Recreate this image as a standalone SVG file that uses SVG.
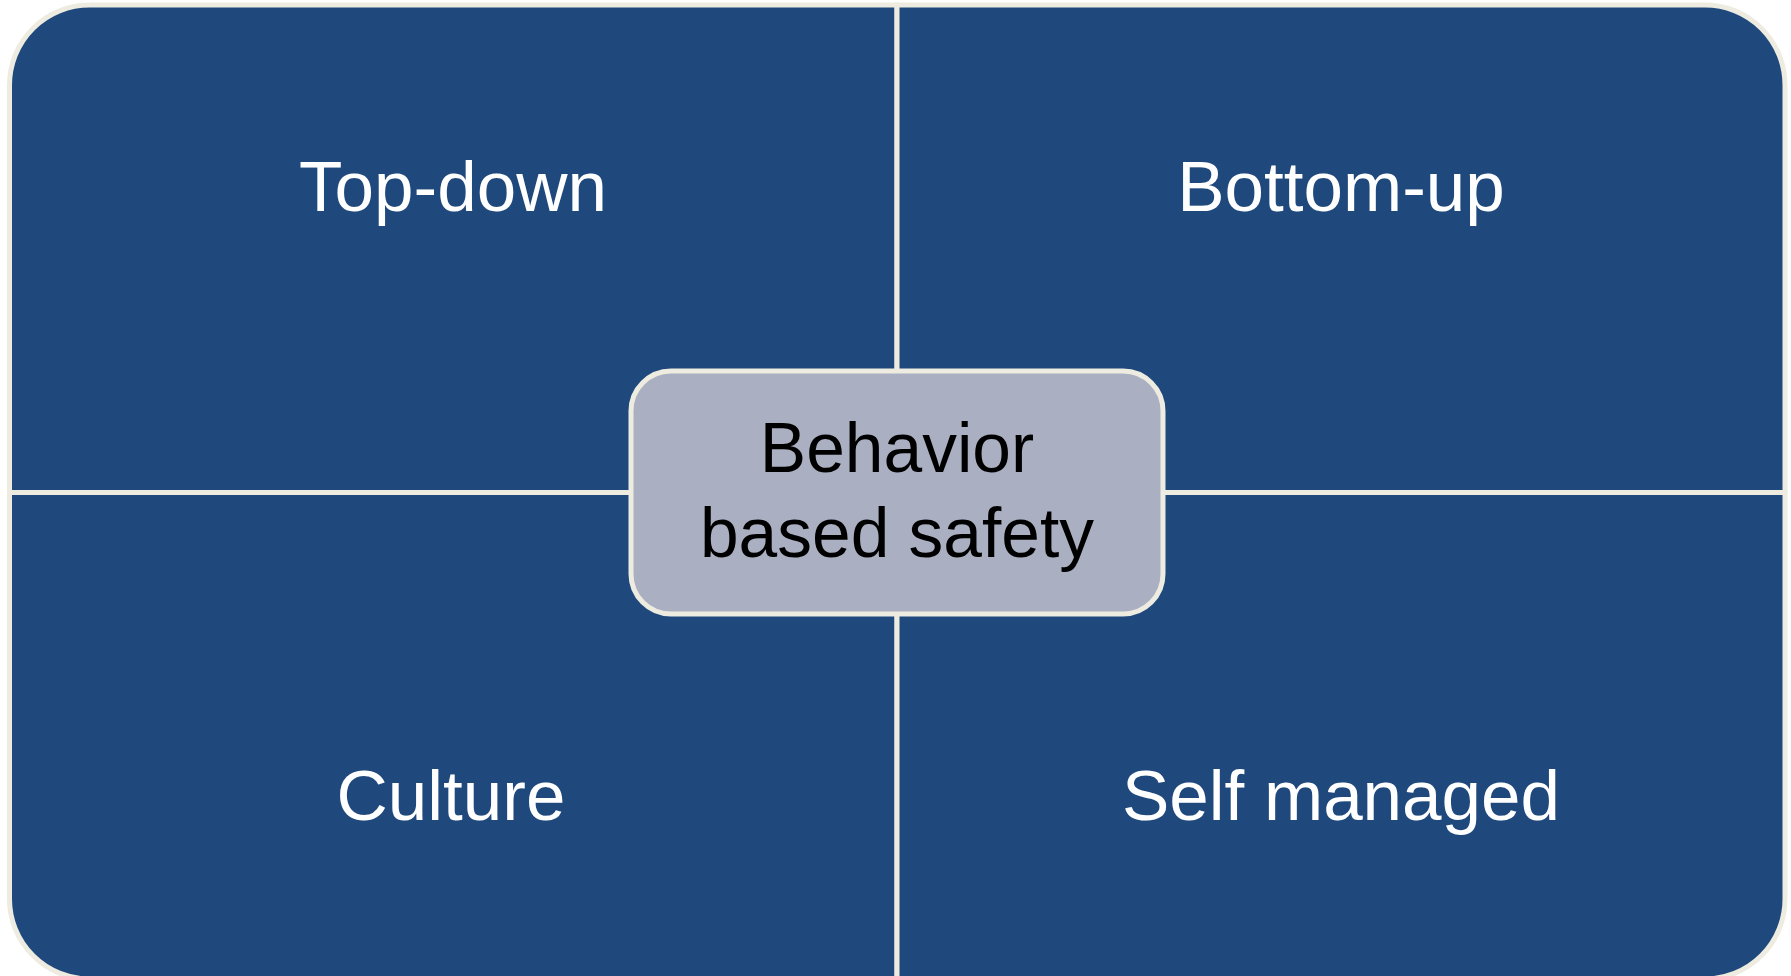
<svg xmlns="http://www.w3.org/2000/svg" width="1791" height="976" viewBox="0 0 1791 976">
  <style>
    .quad { fill: #1F497D; stroke: #EEECE1; stroke-width: 5; }
    .center { fill: #AAB0C1; stroke: #EEECE1; stroke-width: 5; }
    .lbl { font-family: "Liberation Sans", Arial, sans-serif; font-size: 71px; fill: #FFFFFF; text-anchor: middle; }
    .clbl { font-family: "Liberation Sans", Arial, sans-serif; font-size: 69.5px; fill: #000000; text-anchor: middle; }
  </style>
  <rect width="1791" height="976" fill="#FFFFFF"/>
  <g id="connectors"></g>
  <g id="node-top-down">
    <path class="quad" d="M9.5,492.5 L9.5,85 A80,80 0 0 1 89.5,5 L897,5 L897,492.5 Z"/>
    <text class="lbl" x="453" y="211">Top-down</text>
  </g>
  <g id="node-bottom-up">
    <path class="quad" d="M897,5 L1705,5 A80,80 0 0 1 1785,85 L1785,492.5 L897,492.5 Z"/>
    <text class="lbl" x="1341" y="211">Bottom-up</text>
  </g>
  <g id="node-culture">
    <path class="quad" d="M9.5,492.5 L897,492.5 L897,979 L89.5,979 A80,80 0 0 1 9.5,899 Z"/>
    <text class="lbl" x="451" y="820">Culture</text>
  </g>
  <g id="node-self-managed">
    <path class="quad" d="M897,492.5 L1785,492.5 L1785,899 A80,80 0 0 1 1705,979 L897,979 Z"/>
    <text class="lbl" x="1341" y="820">Self managed</text>
  </g>
  <g id="node-center">
    <rect class="center" x="631" y="371" width="532" height="243" rx="40" ry="40"/>
    <text class="clbl" x="897" y="471.5">Behavior</text>
    <text class="clbl" x="897" y="556.5">based safety</text>
  </g>
</svg>
